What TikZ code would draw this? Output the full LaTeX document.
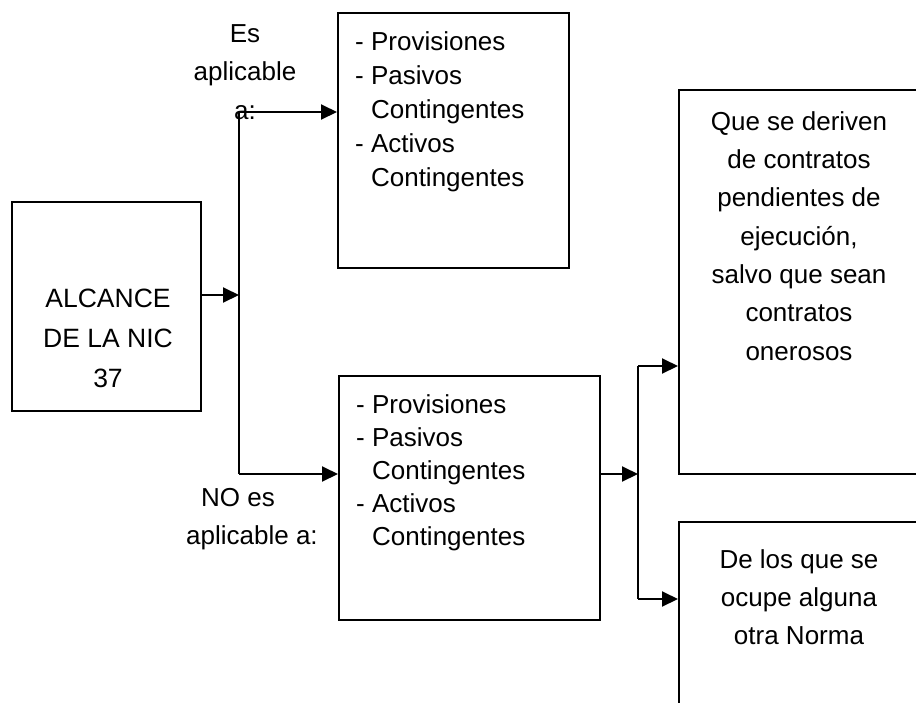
\documentclass[tikz,border=0pt]{standalone}
\usepackage{fontspec}
\setmainfont{Liberation Sans}
\usetikzlibrary{arrows.meta}
\tikzset{
  box/.style={draw=black, line width=2pt, rectangle, inner sep=0pt},
  txt/.style={inner sep=0pt, align=center},
  arr/.style={line width=2pt, -{Triangle[length=16pt,width=15pt]}},
  ln/.style={line width=2pt},
}
\begin{document}
\begin{tikzpicture}[x=1pt,y=-1pt]
\clip (0,0) rectangle (916,702);
\fill[white] (0,0) rectangle (916,702);
% boxes
\node[box, minimum width=189, minimum height=209] (alc) at (106.5,306.5) {};
\node[box, minimum width=231, minimum height=255] (top) at (453.5,140.5) {};
\node[box, minimum width=261, minimum height=244] (mid) at (469.5,498) {};
\node[box, minimum width=300, minimum height=384] (rtop) at (829,282) {};
\node[box, minimum width=300, minimum height=260] (rbot) at (829,652) {};
% texts
\node[txt, font=\fontsize{26.5}{40}\selectfont] (talc) at (108,338) {ALCANCE\\DE LA NIC\\37};
\node[txt, align=left, anchor=west, font=\fontsize{26}{34}\selectfont] (ttop) at (355,112) {- Provisiones\\- Pasivos\\\phantom{- }Contingentes\\- Activos\\\phantom{- }Contingentes};
\node[txt, align=left, anchor=west, font=\fontsize{26}{33}\selectfont] (tmid) at (356,473) {- Provisiones\\- Pasivos\\\phantom{- }Contingentes\\- Activos\\\phantom{- }Contingentes};
\node[txt, font=\fontsize{26}{38.3}\selectfont] (trtop) at (799,236) {Que se deriven\\de contratos\\pendientes de\\ejecución,\\salvo que sean\\contratos\\onerosos};
\node[txt, font=\fontsize{26}{38}\selectfont] (trbot) at (799,597) {De los que se\\ocupe alguna\\otra Norma};
\node[txt, font=\fontsize{26}{38.5}\selectfont] (les) at (245,72) {Es\\aplicable\\a:};
\node[txt, font=\fontsize{26}{40}\selectfont] (lno1) at (238,498) {NO es};
\node[txt, font=\fontsize{26}{40}\selectfont] (lno2) at (252,538) {aplicable a:};
% connectors
\coordinate (ja) at (239,295);
\coordinate (jat) at (239,112);
\coordinate (jab) at (239,474);
\coordinate (jb) at (638,474);
\coordinate (jbt) at (638,366);
\coordinate (jbb) at (638,599);
\draw[arr] (alc.east |- ja) -- (ja);
\draw[ln] (jat) -- (jab);
\draw[arr] (jat) -- (top.west |- jat);
\draw[arr] (jab) -- (mid.west |- jab);
\draw[arr] (mid.east |- jb) -- (jb);
\draw[ln] (jbt) -- (jbb);
\draw[arr] (jbt) -- (rtop.west |- jbt);
\draw[arr] (jbb) -- (rbot.west |- jbb);
\end{tikzpicture}
\end{document}
